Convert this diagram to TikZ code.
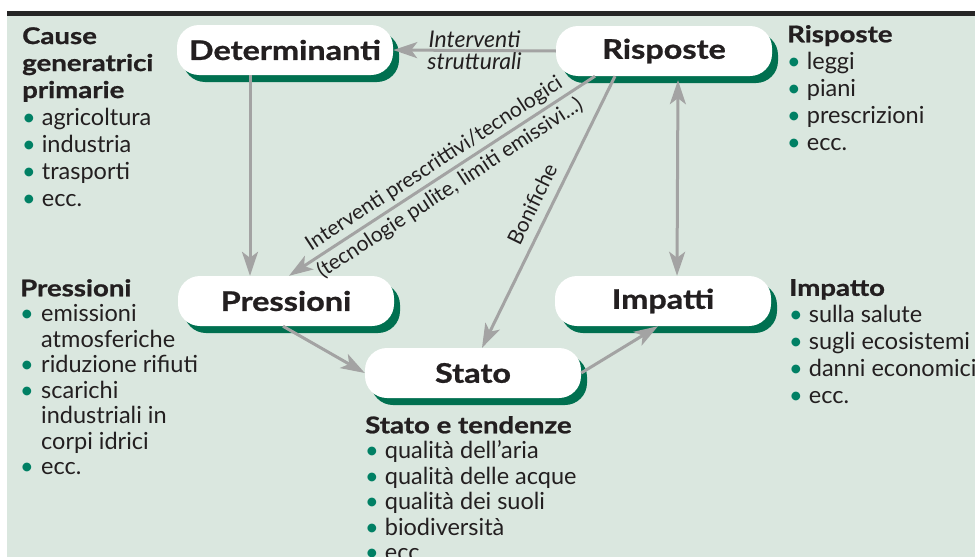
\documentclass[tikz,border=0pt]{standalone}
\usepackage{fontspec}
\setmainfont{Lato}[BoldFeatures={FakeStretch=1.2,FakeBold=1}]
\usepackage{tikz}
\usepackage{xcolor}
\usetikzlibrary{shadows,arrows.meta}

\definecolor{sfondo}{RGB}{218,231,223}
\definecolor{verdescuro}{RGB}{0,112,80}
\definecolor{verdepunto}{RGB}{0,128,100}
\definecolor{grigio}{RGB}{163,163,163}
\definecolor{testo}{RGB}{35,31,32}

\newcommand{\bul}{{\color{verdepunto}\textbullet}\ }
\newcommand{\bulh}{\makebox[21pt][l]{\color{verdepunto}\textbullet}}
\newcommand{\rientro}{\hspace*{21pt}}
\newcommand{\titolo}[1]{{\bfseries\fontsize{23}{27}\selectfont #1}}

\begin{document}
\begin{tikzpicture}[x=1pt,y=-1pt,>={Stealth[length=24pt,width=16pt,inset=6pt]},
  pill/.style={fill=white, rounded corners=22pt, minimum width=216pt,
    minimum height=50pt, inner sep=0pt, text=testo,
    font=\bfseries\fontsize{27}{30}\selectfont,
    drop shadow={shadow xshift=6pt, shadow yshift=-7pt, fill=verdescuro, opacity=1}},
  lista/.style={anchor=north west, inner sep=0pt, align=left, text=testo,
    font=\fontsize{23.5}{27}\selectfont},
  fitta/.style={lista, font=\fontsize{23.5}{25.5}\selectfont},
  freccia/.style={->, line width=3pt, draw=grigio},
  etichetta/.style={text=testo, font=\fontsize{21}{22}\selectfont, inner sep=3pt}]
  % Frame
  \useasboundingbox (0,0) rectangle (975,557);
  \clip (0,0) rectangle (975,557);
  \fill[sfondo] (7,16) rectangle (975,557);
  \fill[black!85] (7,11) rectangle (975,16);
  % Boxes
  \node[pill] (det) at (285,50) {Determinanti};
  \node[pill] (risp) at (664,51) {Risposte};
  \node[pill] (press) at (286,301) {Pressioni};
  \node[pill] (imp) at (663,301) {Impatti};
  \node[pill] (stato) at (473,373) {Stato};
  % Arrows
  \draw[freccia] (risp.west) -- (det.east)
    node[midway, above, etichetta, font=\itshape\fontsize{23}{24}\selectfont, inner sep=1pt] {Interventi}
    node[midway, below, etichetta, font=\itshape\fontsize{23}{24}\selectfont, inner sep=1pt] {strutturali};
  \draw[freccia] ([xshift=-35pt]det.south) -- ([xshift=-36pt]press.north);
  \draw[freccia] ([xshift=-69pt]risp.south) -- ([xshift=3pt]press.north)
    node[midway, sloped, above, etichetta] {Interventi prescrittivi/tecnologici}
    node[midway, sloped, below, etichetta] {(tecnologie pulite, limiti emissivi...)};
  \draw[freccia] ([xshift=-49pt]risp.south) -- ([xshift=9pt]stato.north)
    node[midway, sloped, above=6pt, etichetta] {Bonifiche};
  \draw[freccia] ([xshift=-3pt]press.south) -- (stato.west);
  \draw[freccia] (stato.east) -- ([xshift=-5pt]imp.south);
  \draw[freccia, <->] ([xshift=14pt,yshift=-4pt]risp.south) -- ([xshift=14pt]imp.north);
  % Lists
  \node[lista] (cause) at (22,27) {\titolo{Cause}\\ \titolo{generatrici}\\ \titolo{primarie}\\
    \bul agricoltura\\ \bul industria\\ \bul trasporti\\ \bul ecc.};
  \node[lista] (risposte) at (787,25) {\titolo{Risposte}\\ \bul leggi\\ \bul piani\\
    \bul prescrizioni\\ \bul ecc.};
  \node[fitta] (pressioni) at (20,279) {\titolo{Pressioni}\\ \bulh emissioni\\ \rientro atmosferiche\\
    \bulh riduzione rifiuti\\ \bulh scarichi\\ \rientro industriali in\\ \rientro corpi idrici\\ \bulh ecc.};
  \node[lista] (impatto) at (789,279) {\titolo{Impatto}\\ \bul sulla salute\\ \bul sugli ecosistemi\\
    \bul danni economici\\ \bul ecc.};
  \node[fitta] (tendenze) at (365,416) {\titolo{Stato e tendenze}\\ \bul qualità dell’aria\\
    \bul qualità delle acque\\ \bul qualità dei suoli\\ \bul biodiversità\\ \bul ecc.};
\end{tikzpicture}
\end{document}
